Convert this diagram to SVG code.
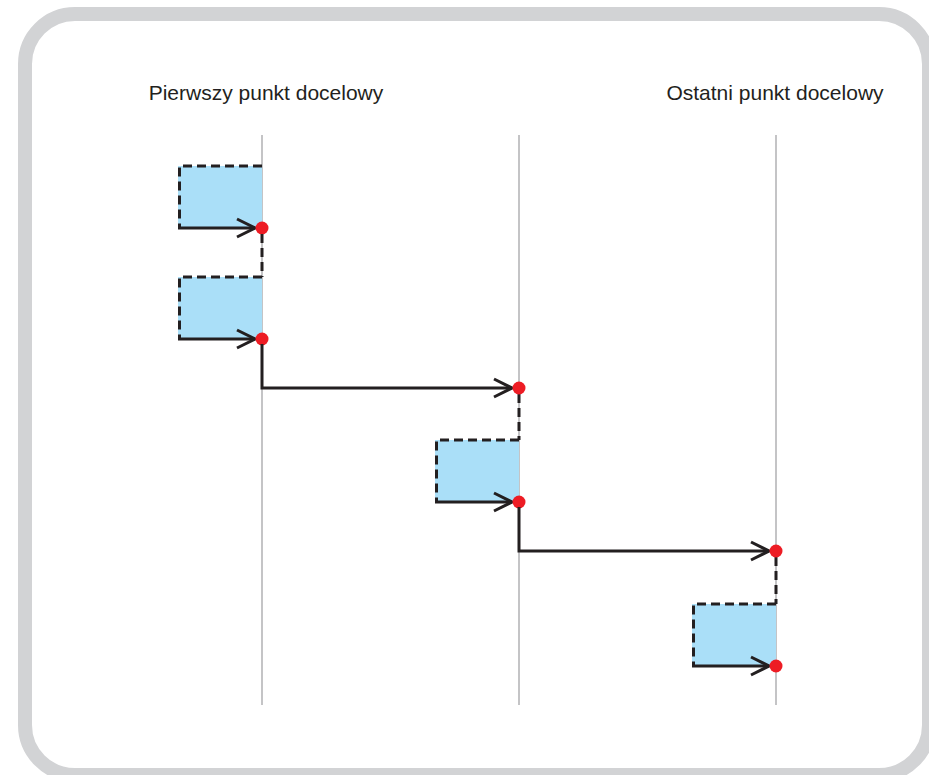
<svg xmlns="http://www.w3.org/2000/svg" width="929" height="775" viewBox="0 0 929 775">
<style>
.frame{fill:#ffffff;stroke:#d2d3d5;stroke-width:14}
.guide{stroke:#c4c4c6;stroke-width:2;fill:none}
.box{fill:#aadff8;stroke:none}
.dash{fill:none;stroke:#231f20;stroke-width:3;stroke-dasharray:9,5}
.conn{fill:none;stroke:#231f20;stroke-width:3}
.dot{fill:#ed1c24}
.lbl{font-family:"Liberation Sans",Arial,sans-serif;font-size:21px;fill:#231f20;text-anchor:middle}
</style>
<defs>
<marker id="arr" markerWidth="24" markerHeight="22" refX="21" refY="11" orient="auto" markerUnits="userSpaceOnUse">
<path d="M3,2 L21,11 L3,20" fill="none" stroke="#231f20" stroke-width="3"/>
</marker>
</defs>
<rect class="frame" x="25" y="14" width="904" height="761" rx="50" ry="50"/>
<text class="lbl" x="266" y="100">Pierwszy punkt docelowy</text>
<text class="lbl" x="775" y="100">Ostatni punkt docelowy</text>
<g id="guides">
<line class="guide" x1="262" y1="135" x2="262" y2="705"/>
<line class="guide" x1="519" y1="135" x2="519" y2="705"/>
<line class="guide" x1="776" y1="135" x2="776" y2="705"/>
</g>
<g id="node1">
<rect class="box" x="178" y="166" width="84" height="62"/>
<path class="dash" d="M262,166 H179.5 V228"/>
<line class="conn" x1="178" y1="228" x2="255" y2="228" marker-end="url(#arr)"/>
<circle class="dot" cx="262" cy="228" r="6.5"/>
</g>
<g id="node2">
<rect class="box" x="178" y="277" width="84" height="62"/>
<path class="dash" d="M262,277 H179.5 V339"/>
<line class="conn" x1="178" y1="339" x2="255" y2="339" marker-end="url(#arr)"/>
<circle class="dot" cx="262" cy="339" r="6.5"/>
</g>
<g id="node3">
<rect class="box" x="435" y="440" width="84" height="62"/>
<path class="dash" d="M519,440 H436.5 V502"/>
<line class="conn" x1="435" y1="502" x2="512" y2="502" marker-end="url(#arr)"/>
<circle class="dot" cx="519" cy="502" r="6.5"/>
</g>
<g id="node4">
<rect class="box" x="692" y="604" width="84" height="62"/>
<path class="dash" d="M776,604 H693.5 V666"/>
<line class="conn" x1="692" y1="666" x2="769" y2="666" marker-end="url(#arr)"/>
<circle class="dot" cx="776" cy="666" r="6.5"/>
</g>
<g id="connectors">
<line class="dash" x1="262" y1="234" x2="262" y2="277"/>
<path class="conn" d="M262,344 V388 H512" marker-end="url(#arr)"/>
<line class="dash" x1="519" y1="394" x2="519" y2="440"/>
<path class="conn" d="M519,507 V551 H769" marker-end="url(#arr)"/>
<line class="dash" x1="776" y1="557" x2="776" y2="604"/>
</g>
<g id="dots">
<circle class="dot" cx="519" cy="388" r="6.5"/>
<circle class="dot" cx="776" cy="551" r="6.5"/>
</g>
</svg>
